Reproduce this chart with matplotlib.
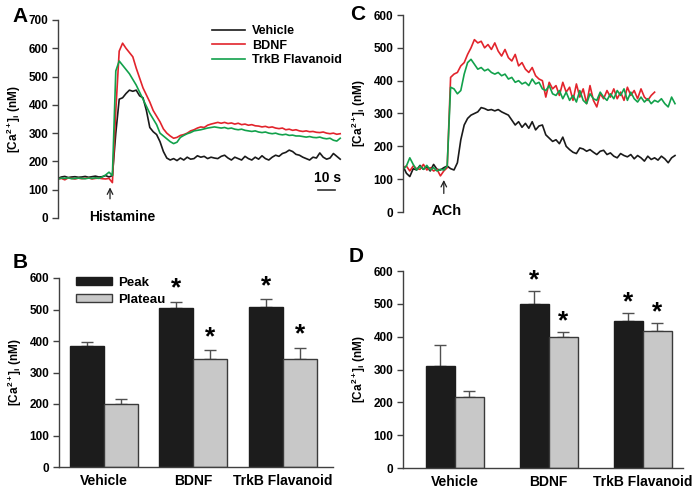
"""
Calcium traces (A, C) and peak / plateau summaries (B, D)
"""

import matplotlib.pyplot as plt
import numpy as np

plt.rcParams['font.family'] = ['Liberation Sans', 'DejaVu Sans']
plt.rcParams['font.weight'] = 'bold'
plt.rcParams['mathtext.fontset'] = 'custom'
plt.rcParams['mathtext.rm'] = 'Liberation Sans:bold'
plt.rcParams['mathtext.bf'] = 'Liberation Sans:bold'
plt.rcParams['mathtext.it'] = 'Liberation Sans:bold'

# ---- data --------------------------------------------------------------
labels = ["Vehicle", "BDNF", "TrkB Flavanoid"]
dt = 2.0  # s between samples

# panel A (histamine)
a_vehicle = [140, 145, 147, 143, 145, 146, 144, 145, 147, 144, 146, 148, 145, 146,
             150, 145, 150, 300, 420, 425, 440, 452, 448, 452, 432, 425, 380, 320,
             305, 295, 270, 235, 212, 205, 210, 203, 212, 205, 215, 208, 210, 220,
             215, 218, 210, 215, 212, 210, 218, 222, 212, 205, 215, 210, 205, 218,
             210, 205, 215, 208, 220, 210, 205, 215, 222, 218, 228, 232, 240, 235,
             225, 222, 215, 210, 205, 215, 212, 230, 215, 208, 212, 228, 218, 208]
a_bdnf = [138, 140, 135, 142, 140, 138, 141, 139, 140, 142, 138, 140, 141, 139,
          138, 140, 125, 380, 590, 618, 600, 585, 570, 530, 495, 460, 435, 410,
          380, 360, 340, 315, 300, 290, 282, 285, 292, 295, 300, 308, 312, 318,
          322, 320, 328, 332, 335, 338, 335, 338, 334, 336, 332, 335, 330, 332,
          328, 330, 326, 325, 322, 324, 320, 322, 318, 316, 318, 312, 314, 310,
          312, 308, 306, 308, 305, 306, 303, 302, 304, 300, 298, 300, 296, 298]
a_trkb = [138, 141, 140, 142, 139, 140, 141, 140, 139, 141, 140, 142, 140, 145,
          152, 162, 150, 520, 555, 540, 525, 510, 490, 470, 445, 420, 395, 370,
          350, 330, 300, 290, 280, 270, 263, 268, 285, 292, 298, 302, 308, 310,
          312, 315, 318, 320, 322, 320, 318, 320, 316, 318, 314, 312, 314, 310,
          308, 306, 308, 304, 302, 304, 300, 298, 300, 296, 294, 296, 292, 293,
          290, 290, 288, 286, 288, 285, 284, 286, 282, 280, 282, 275, 272, 282]

# panel C (ACh)
c_vehicle = [140, 118, 108, 132, 128, 142, 130, 138, 125, 145, 130, 128, 135, 140,
             132, 128, 150, 220, 265, 285, 295, 300, 305, 318, 315, 310, 312, 308,
             312, 305, 300, 295, 280, 265, 275, 258, 270, 255, 275, 250, 262, 265,
             235, 225, 215, 220, 208, 228, 200, 190, 182, 178, 195, 192, 185, 190,
             182, 175, 185, 188, 175, 180, 170, 165, 178, 172, 168, 175, 162, 172,
             165, 155, 170, 160, 165, 158, 170, 162, 150, 165, 172]
c_bdnf = [135, 140, 125, 140, 132, 130, 145, 128, 135, 125, 130, 110, 125, 135,
          410, 420, 425, 445, 455, 480, 500, 525, 515, 520, 500, 510, 495, 515,
          490, 475, 495, 470, 460, 480, 445, 455, 435, 425, 440, 415, 405, 400,
          350, 395, 375, 385, 355, 395, 365, 380, 340, 390, 350, 375, 330, 385,
          340, 320, 360, 345, 370, 350, 375, 345, 365, 340, 380, 355, 370, 345,
          375, 350, 340, 355, 365]
c_trkb = [130, 140, 165, 145, 128, 140, 130, 142, 128, 135, 125, 130, 128, 140,
          380, 375, 360, 370, 420, 455, 465, 450, 435, 440, 430, 435, 425, 420,
          425, 415, 420, 405, 410, 395, 400, 390, 395, 385, 405, 390, 395, 375,
          370, 385, 360, 355, 370, 345, 365, 340, 355, 335, 370, 340, 330, 360,
          345, 340, 365, 350, 340, 360, 345, 370, 355, 375, 340, 365, 345, 335,
          350, 335, 345, 330, 340, 335, 345, 330, 320, 350, 330]

# panel B / D summaries
b_peak = [385, 505, 508]
b_peak_err = [13, 20, 25]
b_plateau = [201, 342, 344]
b_plateau_err = [16, 28, 34]
b_sig_peak = [False, True, True]
b_sig_plateau = [False, True, True]

d_peak = [312, 500, 447]
d_peak_err = [64, 40, 24]
d_plateau = [217, 398, 417]
d_plateau_err = [19, 15, 25]
d_sig_peak = [False, True, True]
d_sig_plateau = [False, True, True]

# ---- style -------------------------------------------------------------
COLORS = {"Vehicle": "#1a1a1a", "BDNF": "#e2242c", "TrkB Flavanoid": "#12a14b"}
SPINE = "#404040"
YLABEL = r"[Ca$^{2+}$]$_{\mathrm{i}}$ (nM)"


def style_axes(ax, bottom=False):
    for s in ["top", "right"]:
        ax.spines[s].set_visible(False)
    ax.spines["bottom"].set_visible(bottom)
    for s in ["left", "bottom"]:
        ax.spines[s].set_color(SPINE)
        ax.spines[s].set_linewidth(1.0)
    ax.tick_params(axis="y", direction="out", length=4, width=1, color=SPINE,
                   labelsize=8.5, pad=3)
    ax.tick_params(axis="x", length=0)
    ax.set_ylabel(YLABEL, fontsize=8.5, fontweight="bold", labelpad=4)


def plot_trace(ax, traces, ymax):
    for name, vals in traces:
        t = np.arange(len(vals)) * dt
        ax.plot(t, vals, color=COLORS[name], lw=1.2, label=name)
    ax.set_ylim(0, ymax)
    ax.set_yticks(np.arange(0, ymax + 1, 100))
    ax.set_xticks([])
    style_axes(ax)


def plot_bars(ax, peak, peak_err, plateau, plateau_err, sig_peak, sig_plateau,
              width, xlim, star_off, legend=False):
    x = np.arange(len(labels))
    ax.bar(x - width / 2, peak, width, color="#1c1c1c", edgecolor="#1c1c1c",
           label="Peak", zorder=2)
    ax.bar(x + width / 2, plateau, width, color="#c8c8c8", edgecolor="#3a3a3a",
           lw=1.0, label="Plateau", zorder=2)
    ax.errorbar(x - width / 2, peak, yerr=[np.zeros(3), peak_err], fmt="none",
                ecolor="#505050", elinewidth=1, capsize=4, capthick=1, zorder=1)
    ax.errorbar(x + width / 2, plateau, yerr=[np.zeros(3), plateau_err], fmt="none",
                ecolor="#505050", elinewidth=1, capsize=4, capthick=1, zorder=1)
    for i in range(len(labels)):
        if sig_peak[i]:
            ax.text(x[i] - width / 2, peak[i] + peak_err[i] + star_off, "*",
                    ha="center", va="center", fontsize=19, fontweight="bold")
        if sig_plateau[i]:
            ax.text(x[i] + width / 2, plateau[i] + plateau_err[i] + star_off, "*",
                    ha="center", va="center", fontsize=19, fontweight="bold")
    ax.set_xlim(*xlim)
    ax.set_ylim(0, 600)
    ax.set_yticks(np.arange(0, 601, 100))
    ax.set_xticks(x)
    ax.set_xticklabels(labels, fontsize=10, fontweight="bold")
    style_axes(ax, bottom=True)
    ax.tick_params(axis="x", pad=5)
    if legend:
        ax.legend(loc="upper left", bbox_to_anchor=(0.02, 1.07), frameon=False,
                  fontsize=9.5, handlelength=2.7, handleheight=0.6,
                  handletextpad=0.5, labelspacing=0.4)


def main():
    fig = plt.figure(figsize=(6.93, 4.90), dpi=100)
    W, H = 693.0, 490.0

    def add_axes(x0, x1, ytop, ybot):
        return fig.add_axes([x0 / W, 1 - ybot / H, (x1 - x0) / W, (ybot - ytop) / H])

    # A
    ax_a = add_axes(58, 343.6, 20, 218)
    plot_trace(ax_a, [("Vehicle", a_vehicle), ("BDNF", a_bdnf),
                      ("TrkB Flavanoid", a_trkb)], 700)
    ax_a.set_xlim(0, 168)
    ax_a.legend(loc="upper left", bbox_to_anchor=(0.5, 1.03), frameon=False,
                fontsize=9, handlelength=2.6, handletextpad=0.6,
                labelspacing=0.2)
    ax_a.annotate("", xy=(30.6, 118), xytext=(30.6, 58),
                  arrowprops=dict(arrowstyle="->", color="#202020", lw=0.9))
    ax_a.text(37.5, 5, "Histamine", ha="center", va="center", fontsize=10,
              fontweight="bold")
    ax_a.plot([153, 163], [99, 99], color="#303030", lw=1.2)
    ax_a.text(158.5, 140, "10 s", ha="center", va="center", fontsize=10,
              fontweight="bold")

    # C
    ax_c = add_axes(403, 678.4, 15, 212)
    plot_trace(ax_c, [("Vehicle", c_vehicle), ("BDNF", c_bdnf),
                      ("TrkB Flavanoid", c_trkb)], 600)
    ax_c.set_xlim(0, 162)
    ax_c.annotate("", xy=(24, 106), xytext=(24, 48),
                  arrowprops=dict(arrowstyle="->", color="#202020", lw=0.9))
    ax_c.text(26, 2, "ACh", ha="center", va="center", fontsize=10.5,
              fontweight="bold")

    # B
    ax_b = add_axes(59, 333, 278, 467)
    plot_bars(ax_b, b_peak, b_peak_err, b_plateau, b_plateau_err,
              b_sig_peak, b_sig_plateau, 0.38, (-0.503, 2.56), 42, legend=True)

    # D
    ax_d = add_axes(403, 683, 271, 468)
    plot_bars(ax_d, d_peak, d_peak_err, d_plateau, d_plateau_err,
              d_sig_peak, d_sig_plateau, 0.31, (-0.553, 2.43), 33)

    for lab, px, py in [("A", 20, 16), ("C", 358, 14), ("B", 20, 262), ("D", 356, 257)]:
        fig.text(px / W, 1 - py / H, lab, fontsize=15, fontweight="bold",
                 ha="center", va="center")

    fig.savefig("out.png", dpi=100)


if __name__ == "__main__":
    main()
